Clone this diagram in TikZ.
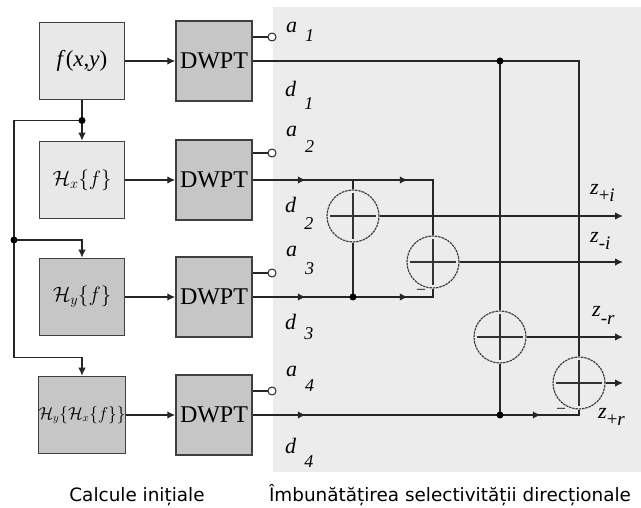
\documentclass[tikz,border=0pt]{standalone}
\usepackage{fontspec}
\setmainfont{Liberation Serif}
\newfontfamily\capfont{DejaVu Sans}
\usetikzlibrary{arrows.meta,positioning,decorations.markings,calc}

% signal label: letter with a dropped index
\newcommand{\sig}[3]{\textit{#1}\hspace{8pt}\raisebox{-#3}{\fontsize{18}{18}\selectfont\textit{#2}}}
\newcommand{\zout}[3]{\textit{z}\raisebox{-7pt}{\fontsize{19}{19}\selectfont #2\textit{#3}}}

\begin{document}
\begin{tikzpicture}[
    x=1pt, y=-1pt,
    wire/.style={line width=1.3pt, draw=black!85},
    arr/.style={wire, -{Latex[length=8pt,width=7.5pt]}},
    tipat/.style={postaction={decorate, decoration={markings,
        mark=at position #1 with {\arrow{Latex[length=8pt,width=7.5pt]}}}}},
    lightbox/.style={
        rectangle,
        draw=black!75,
        line width=1.5pt,
        fill=gray!18,
        minimum width=85pt,
        minimum height=77pt,
        inner sep=0pt,
        font=\fontsize{21}{21}\selectfont
    },
    darkbox/.style={lightbox, fill=gray!45},
    dwpt/.style={darkbox, minimum width=76pt, minimum height=80pt, font=\fontsize{24}{24}\selectfont},
    adder/.style={
        circle,
        draw=black!75,
        line width=1.2pt,
        dash pattern=on 2.5pt off 0.8pt,
        minimum size=52pt,
        inner sep=0pt,
        path picture={
            \draw[solid, line width=1.1pt, black!80]
                ([xshift=3pt]path picture bounding box.west) -- ([xshift=-3pt]path picture bounding box.east)
                ([yshift=-3pt]path picture bounding box.north) -- ([yshift=3pt]path picture bounding box.south);
        }
    },
    tap/.style={circle, fill=black, inner sep=0pt, minimum size=7pt},
    port/.style={circle, draw=black!85, line width=1pt, fill=white, inner sep=0pt, minimum size=8pt},
    lbl/.style={anchor=base west, inner sep=0pt, font=\fontsize{22}{22}\selectfont},
    minus/.style={inner sep=0pt, font=\fontsize{16}{16}\selectfont},
    caption/.style={anchor=base, inner sep=0pt, font=\capfont\fontsize{18.4}{18.4}\selectfont}
]
\useasboundingbox (0,0) rectangle (641,508);

% shaded panel
\fill[gray!15] (273,7) rectangle (641,472);

% =========================================================
% Initial computations
% =========================================================
\node[lightbox, font=\fontsize{23}{23}\selectfont] (fxy) at (82,61) {\textit{f}(\textit{x},\textit{y})};
\node[lightbox] (hx) at (82,180) {$\mathcal{H}_x\{f\}$};
\node[darkbox] (hy) at (82,297) {$\mathcal{H}_y\{f\}$};
\node[darkbox, font=\fontsize{16}{16}\selectfont] (hyx) at (82,415) {$\mathcal{H}_y\{\mathcal{H}_x\{f\}\}$};

\node[dwpt] (dw1) at (214,61) {DWPT};
\node[dwpt] (dw2) at (214,180) {DWPT};
\node[dwpt] (dw3) at (214,297) {DWPT};
\node[dwpt] (dw4) at (214,415) {DWPT};

\draw[arr] (fxy) -- (dw1);
\draw[arr] (hx) -- (dw2);
\draw[arr] (hy) -- (dw3);
\draw[arr] (hyx) -- (dw4);

% branching to the Hilbert blocks
\coordinate (j0) at ($(fxy.south)!0.5!(hx.north)$);
\coordinate (lft) at (14,0);
\coordinate (j5) at (14,240);
\draw[arr] (fxy.south) -- (hx.north);
\draw[arr] (j0) -- (j0 -| lft) |- ($(hyx.north)+(0,-18)$) -- (hyx.north);
\draw[arr] (j5) -| (hy.north);
\node[tap] at (j0) {};
\node[tap] at (j5) {};

% approximation ports
\node[port] (p1) at (272,37) {};
\node[port] (p2) at (272,153) {};
\node[port] (p3) at (272,273) {};
\node[port] (p4) at (272,391) {};
\draw[wire] (dw1.east |- p1) -- (p1);
\draw[wire] (dw2.east |- p2) -- (p2);
\draw[wire] (dw3.east |- p3) -- (p3);
\draw[wire] (dw4.east |- p4) -- (p4);

% signal labels
\node[lbl] at (286,33) {\sig{a}{1}{9pt}};
\node[lbl] at (285,97) {\sig{d}{1}{13pt}};
\node[lbl] at (286,137) {\sig{a}{2}{16pt}};
\node[lbl] at (285,213) {\sig{d}{2}{17pt}};
\node[lbl] at (286,257) {\sig{a}{3}{18pt}};
\node[lbl] at (285,330) {\sig{d}{3}{10pt}};
\node[lbl] at (286,377) {\sig{a}{4}{15pt}};
\node[lbl] at (285,453) {\sig{d}{4}{15pt}};

% =========================================================
% Directional selectivity
% =========================================================
\node[adder] (add1) at (353,216) {};
\node[adder] (add2) at (433,262) {};
\node[adder] (add3) at (500,337) {};
\node[adder] (add4) at (579,383) {};

% row 1
\coordinate (j1) at (add3 |- dw1.east);
\draw[wire] (dw1.east) -| (add4.north);
\draw[wire] (j1) -- (add3.north);
\node[tap] at (j1) {};

% row 2
\coordinate (j2) at (add1 |- dw2.east);
\draw[wire, tipat=53pt, tipat=155pt] (dw2.east) -| (add2.north);
\draw[wire] (j2) -- (add1.north);

% row 3
\coordinate (j3) at (add1 |- dw3.east);
\draw[wire, tipat=53pt, tipat=155pt] (dw3.east) -| (add2.south);
\draw[wire] (j3) -- (add1.south);
\node[tap] at (j3) {};
\node[minus] at (421,291) {--};

% row 4
\coordinate (j4) at (add3 |- dw4.east);
\draw[wire, tipat=53pt, tipat=288pt] (dw4.east) -| (add4.south);
\draw[wire] (j4) -- (add3.south);
\node[tap] at (j4) {};
\node[minus] at (561,410) {--};

% outputs
\coordinate (rim) at (623,0);
\draw[arr] (add1.east) -- (add1.east -| rim);
\draw[arr] (add2.east) -- (add2.east -| rim);
\draw[arr] (add3.east) -- (add3.east -| rim);
\draw[arr] (add4.east) -- (add4.east -| rim);

\node[lbl] at (590,195) {\zout{z}{+}{i}};
\node[lbl] at (590,243) {\zout{z}{-}{i}};
\node[lbl] at (592,317) {\zout{z}{-}{r}};
\node[lbl] at (598,418) {\zout{z}{+}{r}};

% captions
\node[caption] at (137,501) {Calcule inițiale};
\node[caption] at (450,501) {Îmbunătățirea selectivității direcționale};

\end{tikzpicture}
\end{document}
